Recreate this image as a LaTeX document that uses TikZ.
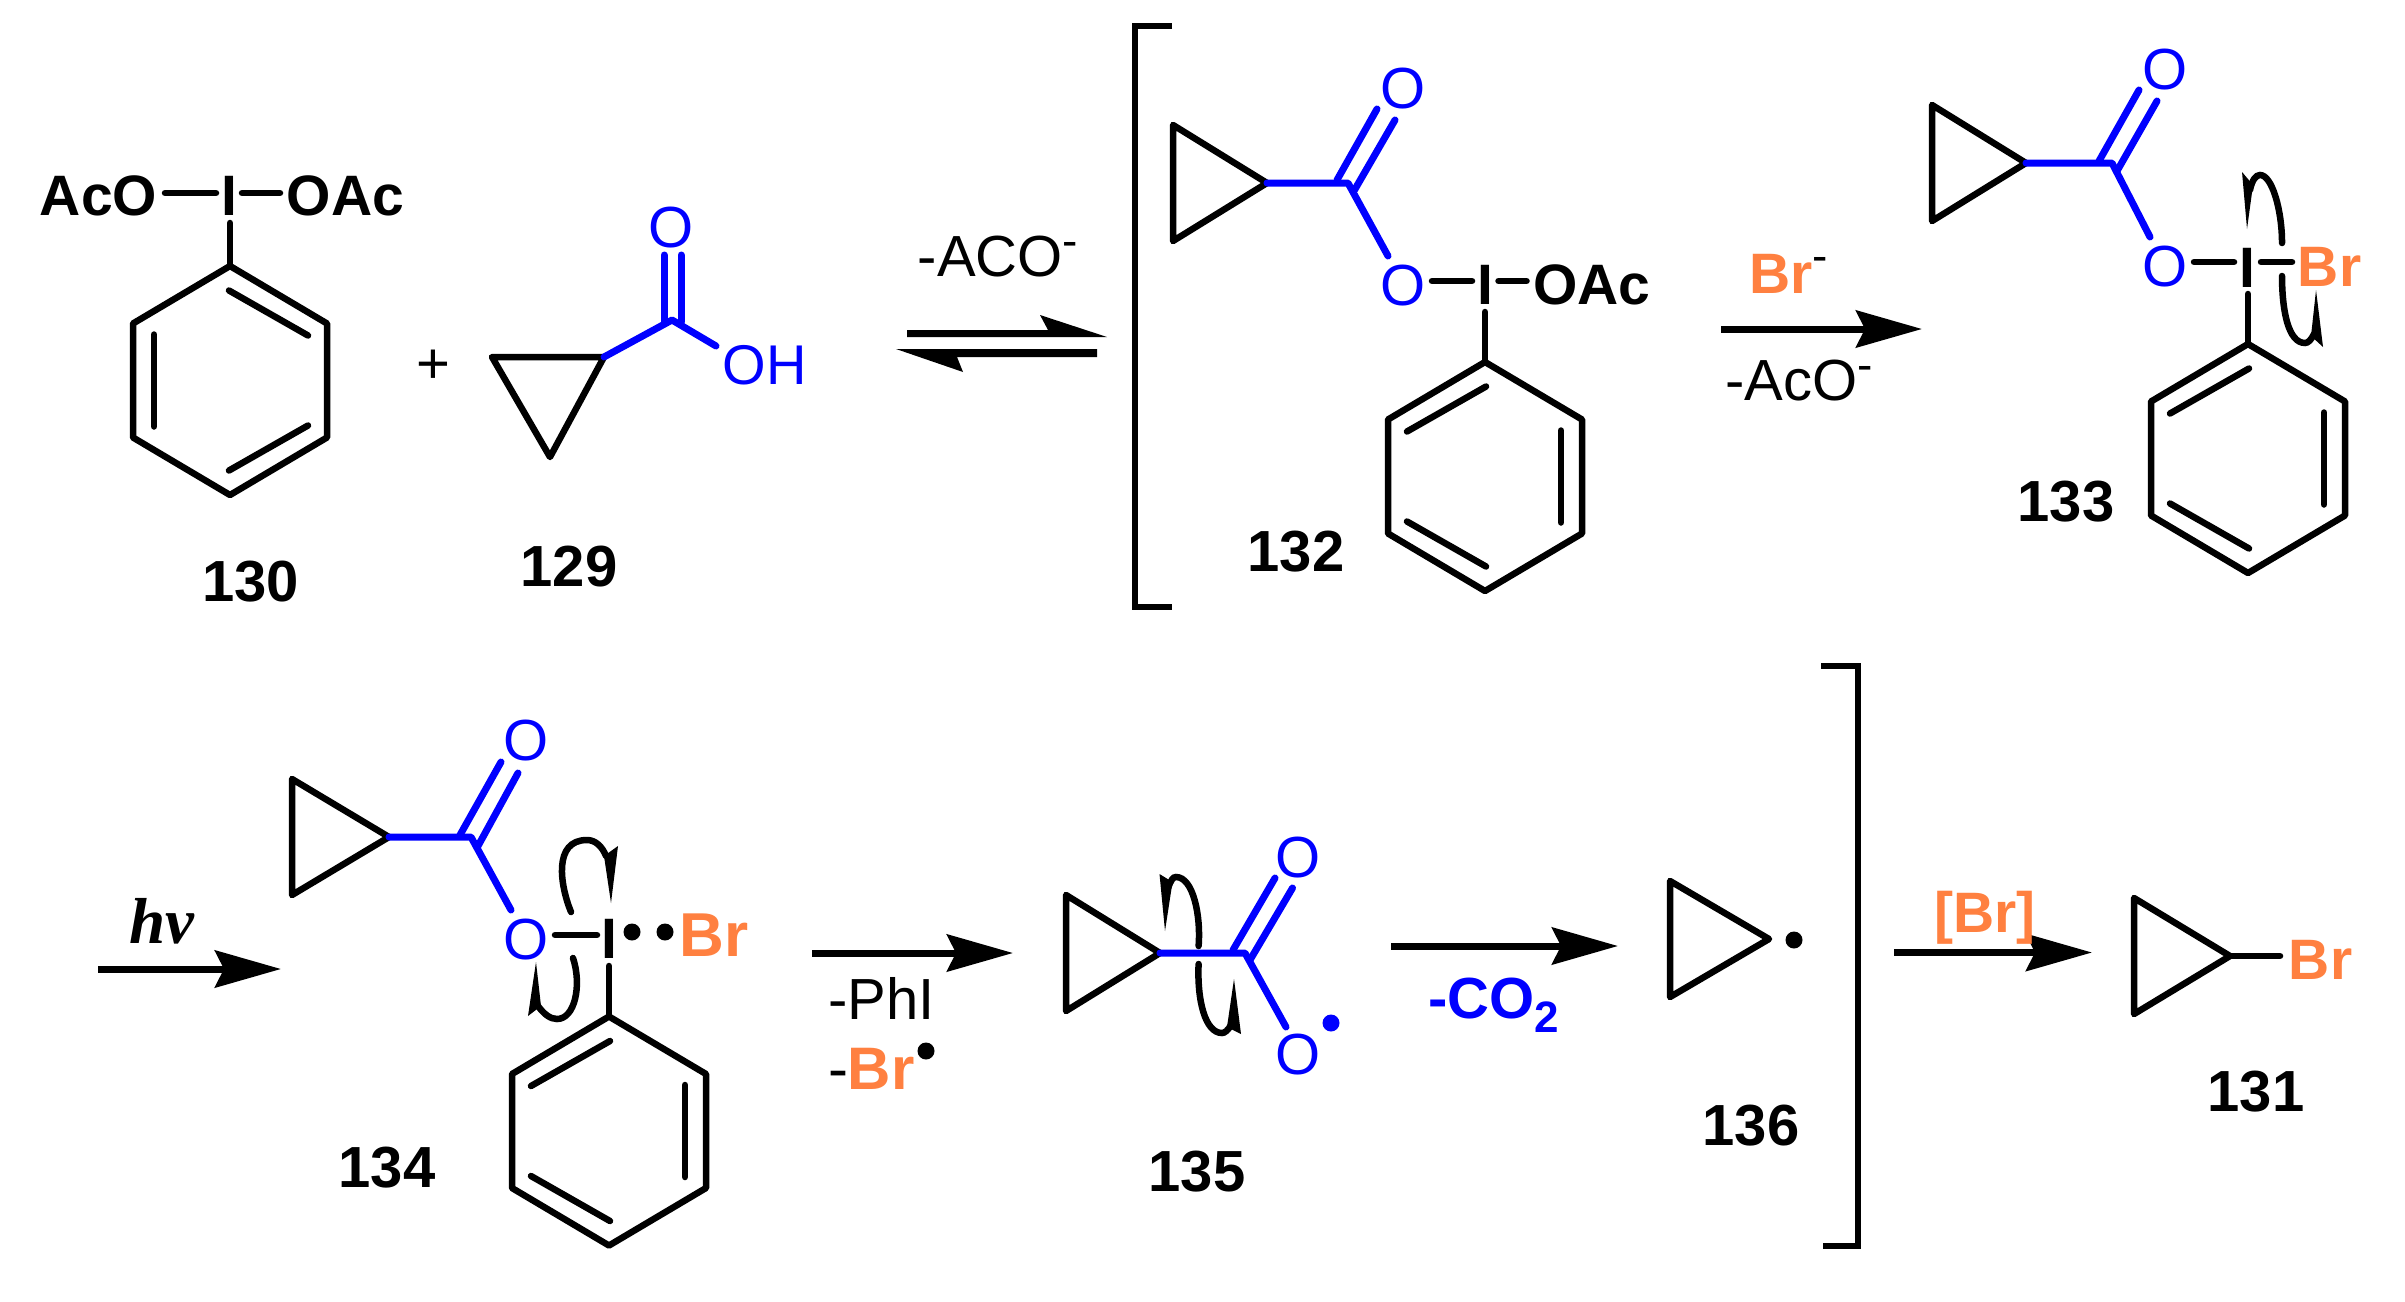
\documentclass[tikz,border=0pt]{standalone}
\usepackage{fontspec}
\setmainfont{Liberation Sans}
\newfontfamily\hvfont{Liberation Serif}
\usetikzlibrary{arrows.meta}
\definecolor{brorange}{RGB}{255,128,64}
\definecolor{oxblue}{RGB}{0,0,255}
\newcommand\fs[1]{\fontsize{#1}{#1}\selectfont}
\tikzset{
  bond/.style={line width=6.5pt,line cap=round,line join=round,draw=black},
  bluebond/.style={bond,draw=oxblue,line width=7pt},
  curl/.style={line width=6.5pt,line cap=round,draw=black},
  rxnarrow/.style={line width=7pt,draw=black,-{Stealth[length=66pt,width=37pt,inset=9pt]}},
  brkt/.style={line width=6.5pt,line join=miter,draw=black},
  atom/.style={inner sep=0pt,outer sep=0pt,anchor=base,font=\fs{58}},
  batom/.style={atom,font=\fs{57}\bfseries},
  oatom/.style={atom,text=oxblue},
  bratom/.style={batom,text=brorange},
  cpdnum/.style={batom,font=\fs{58}\bfseries},
  radical/.style={circle,fill=black,inner sep=0pt,minimum size=17pt},
}
\newcommand\phring[3]{% x, y, mirror
  \begin{scope}[shift={(#1,#2)},xscale=#3]
    \draw[bond] (0,-114.5)--(97,-57)--(97,57)--(0,114.5)--(-97,57)--(-97,-57)--cycle;
    \draw[bond] (-78,-45)--(1,-90);
    \draw[bond] (76,-46)--(76,46);
    \draw[bond] (-78,45)--(1,90);
  \end{scope}}
\newcommand\cprop[3]{% apex x, apex y, left offset
  \draw[bond] (#1,#2)--(#1-#3,#2-58)--(#1-#3,#2+58)--cycle;}
\begin{document}
\begin{tikzpicture}[x=1pt,y=-1pt]
\useasboundingbox (0,0) rectangle (2405,1301);

% ---------- 130
\node[batom] (aco1) at (98.5,215.5) {AcO};
\node[batom] (i1) at (229,215.5) {I};
\node[batom] (oac1) at (345.5,215.5) {OAc};
\draw[bond] (165,193)--(216,193);
\draw[bond] (242,193)--(280,193);
\draw[bond] (230,223)--(230,265);
\phring{230}{380.5}{-1}
\node[cpdnum] (n130) at (250.5,601) {130};

\node[inner sep=0pt] (plus) at (433,367) {\fs{58}+};

% ---------- 129
\draw[bond] (492,357)--(604,357)--(550,457)--cycle;
\draw[bluebond] (604,357)--(672,320)--(716,346);
\draw[bluebond] (664,255)--(664,322);
\draw[bluebond] (681,255)--(681,322);
\node[oatom] (o129) at (671.5,247) {O};
\node[oatom,font=\fs{56}] (oh129) at (764.5,384) {OH};
\node[cpdnum] (n129) at (569,586) {129};

% ---------- equilibrium
\node[atom] (aco2) at (998,276) {-ACO\raisebox{20pt}{\fs{46}-}};
\fill (907,330)--(1048,330)--(1040,315)--(1107,337)--(907,337)--cycle;
\fill (1097,349)--(896,349)--(963,372)--(957,357)--(1097,357)--cycle;

% ---------- left bracket
\draw[brkt] (1172,26)--(1135,26)--(1135,607)--(1172,607);

% ---------- 132
\cprop{1267}{183}{94}
\draw[bluebond] (1267,183)--(1348,183)--(1388,256);
\draw[bluebond] (1337,180)--(1377,109);
\draw[bluebond] (1354.5,190)--(1395,120);
\node[oatom] (o132a) at (1403,108) {O};
\node[oatom] (o132b) at (1403,305) {O};
\draw[bond] (1432,281)--(1472,281);
\node[batom] (i132) at (1485,304) {I};
\draw[bond] (1498.5,281)--(1526.5,281);
\node[batom] (oac132) at (1592,304) {OAc};
\draw[bond] (1485,312)--(1485,362);
\phring{1485}{476.5}{1}
\node[cpdnum] (n132) at (1296,571) {132};

% ---------- Br- arrow
\node[bratom,anchor=base west] (br1) at (1749,293) {Br};
\node[atom,anchor=base west,font=\fs{46}] (brm) at (1812,271) {-};
\coordinate (a2s) at (1721,329); \coordinate (a2e) at (1922,329);
\draw[rxnarrow] (a2s)--(a2e);
\node[atom,anchor=base west] (aco3) at (1725,400) {-AcO\raisebox{20pt}{\fs{46}-}};

% ---------- 133
\cprop{2026}{163}{94}
\draw[bluebond] (2026,163)--(2112,163)--(2150,237);
\draw[bluebond] (2099,161)--(2139,90);
\draw[bluebond] (2117,171)--(2157,101);
\node[oatom] (o133a) at (2165,89) {O};
\node[oatom] (o133b) at (2165,286) {O};
\draw[bond] (2194,262)--(2234,262);
\node[batom] (i133) at (2247,287) {I};
\draw[bond] (2261,262)--(2292,262);
\node[bratom] (br133) at (2329.5,286.5) {Br};
\draw[bond] (2248,294)--(2248,344);
\phring{2248}{458.5}{1}
\node[cpdnum] (n133) at (2066,521) {133};
\draw[curl] (2282,243) .. controls (2282,210) and (2272,175) .. (2260,175) .. controls (2256,175) and (2252,180) .. (2250,190);
\fill (2247,229)--(2242,172)--(2253,185)--cycle;
\draw[curl] (2282,276) .. controls (2282,310) and (2288,343) .. (2305,343) .. controls (2308,343) and (2311,340) .. (2314,334);
\fill (2316,290)--(2323,347)--(2311,336)--cycle;

% ---------- hv arrow
\node[inner sep=0pt,anchor=base west] (hv) at (129,943) {\hvfont\fs{65}\bfseries\itshape hv};
\coordinate (a3s) at (98,969); \coordinate (a3e) at (281,969);
\draw[rxnarrow] (a3s)--(a3e);

% ---------- 134
\cprop{389}{837}{97}
\draw[bluebond] (389,837)--(471,837)--(511,910);
\draw[bluebond] (460,835)--(501,762);
\draw[bluebond] (478,846)--(518,773);
\node[oatom] (o134a) at (526,760) {O};
\node[oatom] (o134b) at (526,959) {O};
\draw[bond] (555,935)--(597,935);
\node[batom] (i134) at (609,958) {I};
\node[radical] (d1) at (632,932) {};
\node[radical] (d2) at (665,932) {};
\node[bratom,font=\fs{62}\bfseries] (br134) at (714,956) {Br};
\draw[bond] (609,966)--(609,1016);
\phring{609}{1131}{1}
\node[cpdnum] (n134) at (387,1187) {134};
\draw[curl] (571,912) .. controls (560,885) and (553,840) .. (587,840) .. controls (595,840) and (602,846) .. (606,856);
\fill (611,903)--(618,846)--(604,856)--cycle;
\draw[curl] (573,958) .. controls (582,985) and (575,1019) .. (557,1019) .. controls (550,1019) and (544,1014) .. (538,1006);
\fill (536,962)--(528,1016)--(541,1006)--cycle;

% ---------- arrow 134 -> 135
\coordinate (a4s) at (812,953); \coordinate (a4e) at (1013,953);
\draw[rxnarrow] (a4s)--(a4e);
\node[atom,anchor=base west,font=\fs{58}] (phi) at (828,1019) {-PhI};
\node[atom,anchor=base west,font=\fs{60}] (brm2) at (828,1089) {-\textcolor{brorange}{\bfseries Br}};
\node[radical] (d3) at (926,1051) {};

% ---------- 135
\cprop{1160}{953}{94}
\draw[bluebond] (1160,953)--(1245,953)--(1286,1027);
\draw[bluebond] (1233,950)--(1275,878);
\draw[bluebond] (1250,960)--(1292.5,888);
\node[oatom] (o135a) at (1298,877) {O};
\node[oatom] (o135b) at (1298,1074) {O};
\node[radical,fill=oxblue] (d4) at (1331,1023) {};
\node[cpdnum] (n135) at (1197,1191) {135};
\draw[curl] (1198.6,946) .. controls (1201,915) and (1193,877) .. (1176,877) .. controls (1173,877) and (1171,880) .. (1168,888);
\fill (1165,931)--(1159.5,874)--(1172.5,882)--cycle;
\draw[curl] (1198.6,964) .. controls (1197,1000) and (1205,1033) .. (1222,1033) .. controls (1225,1033) and (1228,1030) .. (1231,1025);
\fill (1234,979)--(1241,1034)--(1227,1027)--cycle;

% ---------- arrow 135 -> 136
\coordinate (a5s) at (1391,946); \coordinate (a5e) at (1618,946);
\draw[rxnarrow] (a5s)--(a5e);
\node[batom,anchor=base west,text=oxblue,font=\fs{58}\bfseries] (co2) at (1428,1018) {-CO\raisebox{-14pt}{\fs{44}2}};

% ---------- 136
\cprop{1769}{939}{99}
\node[radical] (d5) at (1794,940) {};
\node[cpdnum] (n136) at (1751,1145) {136};

% ---------- right bracket
\draw[brkt] (1821,666)--(1858,666)--(1858,1246)--(1823,1246);

% ---------- arrow 136 -> 131
\coordinate (a6s) at (1894,952.5); \coordinate (a6e) at (2092,952.5);
\draw[rxnarrow] (a6s)--(a6e);
\node[bratom] (brb) at (1985,932) {[Br]};

% ---------- 131
\cprop{2230}{956}{96}
\draw[bond] (2230,956)--(2280,956);
\node[bratom] (br131) at (2320.5,979) {Br};
\node[cpdnum] (n131) at (2256,1111) {131};
\end{tikzpicture}
\end{document}
